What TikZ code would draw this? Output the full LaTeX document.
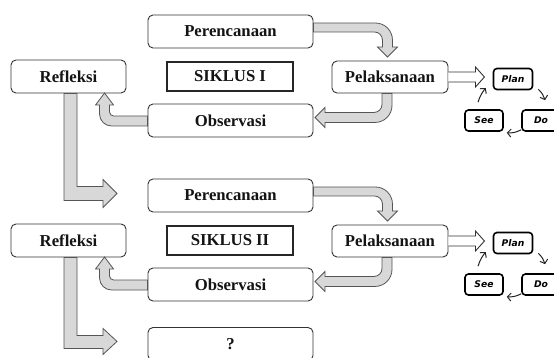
\documentclass[tikz,border=0pt]{standalone}
\usepackage{fontspec}
\setmainfont{Liberation Serif}
\newfontfamily\pdcafont{DejaVu Sans}
\usetikzlibrary{arrows.meta,calc}
\definecolor{fatfill}{HTML}{D8D8D8}
\definecolor{fatdraw}{HTML}{555555}
\definecolor{boxdraw}{HTML}{333333}
\definecolor{txt}{HTML}{141414}
\begin{document}
\begin{tikzpicture}[x=1pt,y=-1pt,
  stagebox/.style={draw=boxdraw,line width=0.9pt,rounded corners=5pt,fill=white,
    inner sep=0pt,text=txt,font=\fontsize{16.7}{18}\selectfont\bfseries},
  siklusbox/.style={draw=black!85,line width=1.4pt,inner sep=0pt,text=txt,
    minimum width=126pt,minimum height=29pt,font=\fontsize{16.7}{18}\selectfont\bfseries},
  pdcabox/.style={draw=black,line width=1.6pt,rounded corners=3.5pt,fill=white,inner sep=0pt,
    minimum width=38pt,minimum height=21pt,font=\pdcafont\fontsize{9.2}{10}\selectfont\bfseries\itshape},
  fat/.style={fill=fatfill,draw=fatdraw,line width=0.8pt,line join=miter},
  hollow/.style={fill=white,draw=boxdraw,line width=0.9pt,line join=miter},
  smallarr/.style={draw=black!85,line width=1pt,-{Straight Barb[length=3.5pt,width=8pt]}}]
\useasboundingbox (0,0) rectangle (554,358);
\foreach \i/\lab in {1/I,2/II}{
\begin{scope}[yshift={(1-\i)*164pt}]
  \node[stagebox,minimum width=165pt,minimum height=33pt] (per\i) at (230.5,31.5) {Perencanaan};
  \node[stagebox,minimum width=115pt,minimum height=33pt] (ref\i) at (68.5,76.5) {Refleksi};
  \node[siklusbox] (sik\i) at (230,76.5) {SIKLUS \lab};
  \node[stagebox,minimum width=165pt,minimum height=33pt] (obs\i) at (230.5,120.5) {Observasi};
  \node[stagebox,minimum width=116pt,minimum height=32pt] (pel\i) at (390,77) {Pelaksanaan};
  \node[pdcabox,minimum width=39pt] (plan\i) at (513,79) {Plan};
  \node[pdcabox] (see\i) at (484,120.5) {See};
  \node[pdcabox] (do\i) at (541,120.5) {Do};
  % Perencanaan -> Pelaksanaan
  \draw[fat] (per\i.east) ++(0,-8.5) -- ++(62,0) arc[start angle=270,end angle=360,radius=17]
    -- ++(0,7) -- ++(5,0) -- ++(-10,10) -- ++(-10,-10) -- ++(5,0) -- ++(0,-7)
    arc[start angle=0,end angle=-90,radius=8] -- ++(-61,0) -- cycle;
  % Pelaksanaan -> Observasi
  \draw[fat] (pel\i.south) ++(-8,0) -- ++(10,0) -- ++(0,12) arc[start angle=0,end angle=90,radius=17]
    -- ++(-50,0) -- ++(0,5) -- ++(-10,-10) -- ++(10,-10) -- ++(0,5) -- ++(49,0)
    arc[start angle=90,end angle=0,radius=8] -- cycle;
  % Observasi -> Refleksi
  \draw[fat] (obs\i.west) ++(0,-4.5) -- ++(-34,0) arc[start angle=90,end angle=180,radius=4]
    -- ++(0,-7) -- ++(4,0) -- ++(-9,-12) -- ++(-9,12) -- ++(4,0) -- ++(0,9)
    arc[start angle=180,end angle=90,radius=12] -- ++(36,0) -- cycle;
  % Pelaksanaan => Plan
  \filldraw[hollow] (pel\i.east) ++(0,-5) -- ++(27,0) -- ++(0,-5) -- ++(9,10) -- ++(-9,10)
    -- ++(0,-5) -- ++(-27,0);
  % Plan-Do-See cycle
  \draw[smallarr] ($(plan\i.south east)+(5,-1)$) to[bend left=15] ($(do\i.north)+(4,-9)$);
  \draw[smallarr] ($(do\i.south west)+(0,-2)$) to[bend left=15] ($(see\i.south east)+(3,1)$);
  \draw[smallarr] ($(see\i.north)+(-6,-7)$) to[bend left=10] ($(plan\i.west)+(-7,9)$);
\end{scope}
}
\node[stagebox,minimum width=165pt,minimum height=33pt] (next) at (230.5,344) {?};
% Refleksi I -> Perencanaan II
\draw[fat] (ref1.south) ++(-4.5,0) -- ++(13,0) -- ++(0,93) -- ++(26,0) -- ++(0,-7)
  -- ++(14,14) -- ++(-14,14) -- ++(0,-7) -- ++(-39,0) -- cycle;
% Refleksi II -> ?
\draw[fat] (ref2.south) ++(-4.5,0) -- ++(13,0) -- ++(0,78) -- ++(26,0) -- ++(0,-7)
  -- ++(14,13) -- ++(-14,13) -- ++(0,-6) -- ++(-39,0) -- cycle;
\end{tikzpicture}
\end{document}
